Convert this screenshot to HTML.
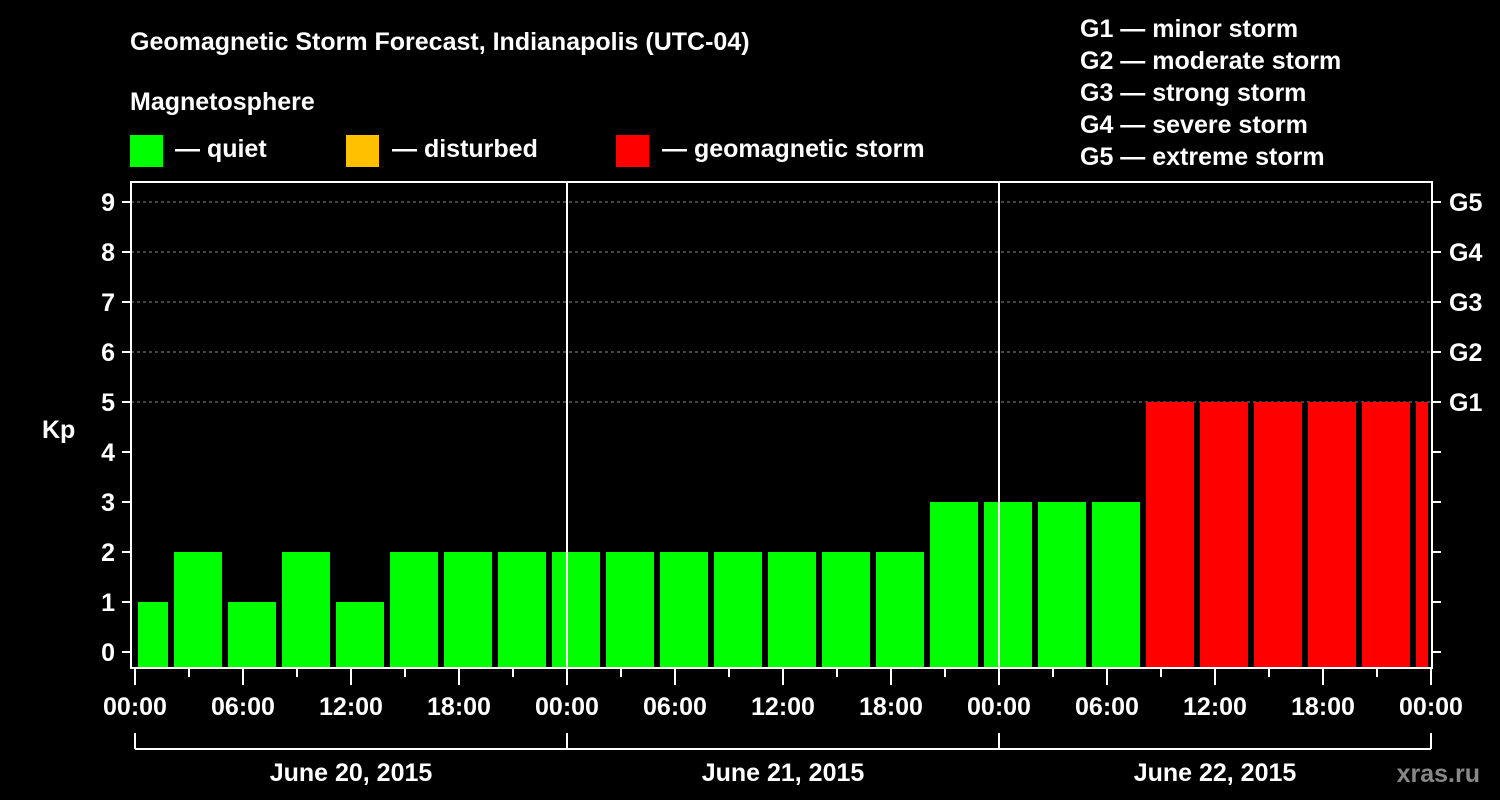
<!DOCTYPE html>
<html><head><meta charset="utf-8"><style>
body{margin:0;background:#000;}
svg{display:block;font-family:"Liberation Sans",Arial,sans-serif;font-weight:bold;}
</style></head><body>
<svg width="1500" height="800" viewBox="0 0 1500 800">
<rect width="1500" height="800" fill="#000"/>
<text x="130" y="50" fill="#fff" font-size="25">Geomagnetic Storm Forecast, Indianapolis (UTC-04)</text>
<text x="130" y="110" fill="#fff" font-size="25">Magnetosphere</text>
<g>
<rect x="130" y="135" width="33" height="32" fill="#00ff00"/>
<text x="175" y="157" fill="#fff" font-size="25">— quiet</text>
<rect x="346" y="135" width="33" height="32" fill="#ffc000"/>
<text x="392" y="157" fill="#fff" font-size="25">— disturbed</text>
<rect x="616" y="135" width="33" height="32" fill="#ff0000"/>
<text x="662" y="157" fill="#fff" font-size="25">— geomagnetic storm</text>
</g>
<g fill="#fff" font-size="25">
<text x="1080" y="37">G1 — minor storm</text>
<text x="1080" y="69">G2 — moderate storm</text>
<text x="1080" y="101">G3 — strong storm</text>
<text x="1080" y="133">G4 — severe storm</text>
<text x="1080" y="165">G5 — extreme storm</text>
</g>
<text x="42" y="438" fill="#fff" font-size="25">Kp</text>
<text x="1480" y="782" fill="#888" font-size="25" text-anchor="end">xras.ru</text>
<g id="plot"></g>
</svg>
<script>
const kpValues=[1,2,1,2,1,2,2,2,2,2,2,2,2,2,2,3,3,3,3,5,5,5,5,5,5];
const firstSlotHour=-1; // local hours, 3-hour slots
const slotHours=3;
const yTicks=[0,1,2,3,4,5,6,7,8,9];
const gLabels=["G1","G2","G3","G4","G5"];
const gLevels=[5,6,7,8,9];
const xTickLabels=["00:00","06:00","12:00","18:00","00:00","06:00","12:00","18:00","00:00","06:00","12:00","18:00","00:00"];
const dayLabels=["June 20, 2015","June 21, 2015","June 22, 2015"];

const NS="http://www.w3.org/2000/svg";
const g=document.getElementById('plot');
const L=131,R=1432,T=182,B=668,X0=135,HPX=18;
const xs=h=>X0+h*HPX;
const ys=k=>652-k*50;
function mk(tag,a,parent){const e=document.createElementNS(NS,tag);for(const k in a)e.setAttribute(k,a[k]);(parent||g).appendChild(e);return e;}
function color(k){return k>=5?'#ff0000':(k>=4?'#ffc000':'#00ff00');}
// grid
gLevels.forEach(k=>{const e=mk('line',{x1:L,x2:R,y1:ys(k),y2:ys(k),stroke:'#888','stroke-dasharray':'3,3','stroke-width':1});

});
// bars
kpValues.forEach((v,i)=>{
  let h0=Math.max(0,firstSlotHour+i*slotHours),h1=Math.min(72,firstSlotHour+(i+1)*slotHours);
  const x0=xs(h0)+3,x1=xs(h1)-3;
  const e=mk('rect',{x:x0,y:ys(v),width:x1-x0,height:B-ys(v),fill:color(v)});
  
  
});
// day separators
[1,2].forEach(d=>{const e=mk('line',{x1:xs(d*24),x2:xs(d*24),y1:T,y2:B,stroke:'#fff','stroke-width':2});

});
// frame
const fr=mk('rect',{x:L,y:T,width:R-L,height:B-T,fill:'none',stroke:'#fff','stroke-width':2});


// y ticks
yTicks.forEach(k=>{
  mk('line',{x1:122,x2:L,y1:ys(k),y2:ys(k),stroke:'#fff','stroke-width':2});
  mk('line',{x1:R,x2:1441,y1:ys(k),y2:ys(k),stroke:'#fff','stroke-width':2});
  const t=mk('text',{x:115,y:ys(k)+9,fill:'#fff','font-size':25,'text-anchor':'end'});t.textContent=k;
  
  
});
gLabels.forEach((s,i)=>{const t=mk('text',{x:1449,y:ys(gLevels[i])+9,fill:'#fff','font-size':25});t.textContent=s;

});
// x ticks
for(let h=0;h<=72;h+=3){const major=h%6===0;mk('line',{x1:xs(h),x2:xs(h),y1:B,y2:major?685:677,stroke:'#fff','stroke-width':2});}
xTickLabels.forEach((s,i)=>{const t=mk('text',{x:xs(i*6),y:715,fill:'#fff','font-size':25,'text-anchor':'middle'});t.textContent=s;

});
// date bracket
mk('line',{x1:xs(0),x2:xs(72),y1:749,y2:749,stroke:'#fff','stroke-width':2});
for(let d=0;d<=3;d++)mk('line',{x1:xs(d*24),x2:xs(d*24),y1:733,y2:749,stroke:'#fff','stroke-width':2});
dayLabels.forEach((s,i)=>{const t=mk('text',{x:xs(i*24+12),y:781,fill:'#fff','font-size':25,'text-anchor':'middle'});t.textContent=s;

});
</script>
</body></html>
